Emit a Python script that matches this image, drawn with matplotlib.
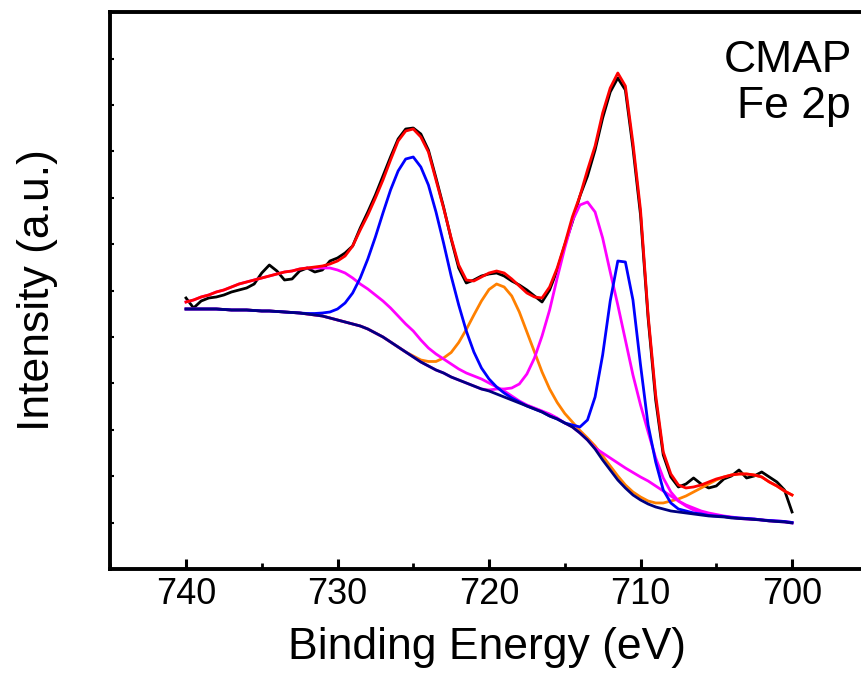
import numpy as np
import matplotlib
matplotlib.use("Agg")
import matplotlib.pyplot as plt
from matplotlib.ticker import MultipleLocator, FixedLocator

plt.rcParams['font.family'] = ['Liberation Sans', 'DejaVu Sans']

# binding energy grid (eV), 740 -> 700 in 0.5 eV steps
energy = np.linspace(740, 700, 81)

# raw spectrum (a.u.)
raw = [272, 262, 269, 272, 273, 275, 278, 280, 282, 286,
       297, 305, 299, 290, 291, 299, 302, 298, 300, 309,
       312, 317, 324, 342, 358, 375, 394, 413, 431, 441,
       442, 436, 420, 392, 363, 331, 302, 287, 290, 294,
       296, 297, 294, 289, 285, 280, 274, 268, 280, 300,
       325, 348, 374, 394, 420, 452, 478, 492, 480, 422,
       355, 252, 170, 115, 93, 83, 86, 92, 86, 82,
       84, 91, 94, 100, 92, 94, 98, 93, 88, 80, 58]

# fitted envelope
envelope = [268, 270, 273, 275, 278, 280, 283, 286, 288, 290,
            292, 294, 296, 298, 299, 301, 302, 303, 304, 306,
            309, 314, 324, 340, 355, 372, 390, 410, 429, 439,
            441, 433, 418, 390, 362, 332, 305, 290, 289, 293,
            297, 299, 297, 291, 284, 277, 273, 272, 283, 302,
            326, 353, 374, 400, 424, 457, 482, 497, 484, 427,
            360, 255, 175, 118, 96, 85, 82, 83, 85, 88,
            91, 93, 95, 96, 96, 95, 93, 88, 84, 79, 75]

# Shirley background
background = [261, 261, 261, 261, 261, 260.5, 260, 260, 260, 259.5,
              259, 259, 258.5, 258, 257.5, 257, 256, 255, 254, 252,
              250, 248, 246, 244, 241, 237, 233, 228, 223, 218,
              213, 208, 204, 200, 197, 193, 190, 187, 184, 181,
              179, 176, 173, 170, 167, 164, 161, 158, 154, 151,
              147, 143, 137, 130, 121, 110, 100, 90, 82, 75,
              70, 66, 63, 61, 59, 58, 57, 56, 55, 54,
              53.5, 53, 52, 51.5, 51, 50.5, 50, 49, 48.5, 48, 47]

# Fe 2p3/2 + 2p1/2 main peaks (blue)
comp_blue = [261, 261, 261, 261, 261, 260.5, 260, 260, 260, 259.5,
             259, 259, 258.5, 258, 257.5, 257, 256.5, 256.5, 257, 258,
             261, 267, 277, 292, 311, 333, 357, 380, 399, 411,
             413, 403, 385, 358, 327, 294, 265, 239, 218, 202,
             191, 183, 177, 172, 168, 164, 161, 158, 154, 151,
             147, 145, 143, 150, 173, 215, 269, 309, 308, 270,
             205, 145, 108, 80, 67, 61, 59, 57, 56, 54.5,
             54, 53.5, 52.5, 52, 51.5, 51, 50, 49.5, 49, 48.5, 47.5]

# satellites (orange)
comp_orange = [261, 261, 261, 261, 261, 260.5, 260, 260, 260, 259.5,
               259, 259, 258.5, 258, 257.5, 257, 256, 255, 254, 252,
               250, 248, 246, 244, 241, 237, 233, 228, 223, 218,
               214, 210, 208.5, 208.5, 212, 217.5, 227.5, 240.5, 255, 269,
               280.5, 286, 283, 274, 258, 238, 218, 198, 181, 167.5,
               156.5, 148, 139.5, 132, 124, 114, 104, 94, 85, 78,
               73, 69, 67, 67, 69, 71, 74, 78, 82, 86,
               90, 93, 95, 96, 96, 95, 93, 88, 84, 79, 75]

# broad high-energy component (magenta)
comp_magenta_a = [268, 270, 273, 275, 278, 280, 283, 286, 288, 290,
                  292, 294, 296, 298, 299, 301, 302, 302, 302, 302,
                  300, 297, 292, 286, 281, 275, 269, 262, 254, 246,
                  239, 230, 222, 216, 211, 206, 201, 197, 194, 191,
                  187, 183, 179, 174, 169, 165, 162, 159, 156, 152,
                  147, 143, 137, 130, 122, 117, 112, 107, 102, 97.5,
                  93, 89, 84, 79, 74, 69, 65, 62, 59, 57,
                  55.5, 54, 53, 52, 51.5, 51, 50, 49.5, 49, 48.5, 47.5]

# Fe3+ 2p3/2 component (magenta)
comp_magenta_b = [261, 261, 261, 261, 261, 260.5, 260, 260, 260, 259.5,
                  259, 259, 258.5, 258, 257.5, 257, 256, 255, 254, 252,
                  250, 248, 246, 244, 241, 237, 233, 228, 223, 218,
                  213, 208, 204, 200, 197, 193, 190, 187, 184, 181,
                  180, 181, 181, 182, 186, 196, 212, 234, 260, 292,
                  322, 349, 365, 368, 358, 332, 298, 265, 230, 195,
                  165, 138, 112, 92, 78, 69, 64, 60, 58, 56,
                  54.5, 53.5, 52.5, 51.5, 51, 50.5, 50, 49, 48.5, 48, 47]

x_ticks = [740, 730, 720, 710, 700]

fig = plt.figure(figsize=(8.62, 6.9), dpi=100)
ax = fig.add_axes([0.1279, 0.1754, 0.9667, 0.8072])

lw = 2.0
ax.plot(energy, raw, color='black', lw=lw, zorder=2)
ax.plot(energy, comp_orange, color='#FF8000', lw=lw, zorder=3)
ax.plot(energy, comp_magenta_a, color='#FF00FF', lw=lw, zorder=3)
ax.plot(energy, comp_magenta_b, color='#FF00FF', lw=lw, zorder=3)
ax.plot(energy, comp_blue, color='#0000FF', lw=lw, zorder=4)
ax.plot(energy, background, color='#000080', lw=lw, zorder=5)
ax.plot(energy, envelope, color='#FF0000', lw=lw, zorder=6)

ax.set_xlim(745, 690)
ax.set_ylim(1, 558)
ax.xaxis.set_major_locator(FixedLocator(x_ticks))
ax.xaxis.set_minor_locator(MultipleLocator(5))
ax.set_yticks(np.arange(1, 559, 46.4))
ax.tick_params(axis='x', which='major', direction='in', length=7.5, width=2.2,
               labelsize=26, pad=6)
ax.tick_params(axis='x', which='minor', direction='in', length=4.5, width=2.0)
ax.tick_params(axis='y', which='major', direction='in', length=3, width=1.5,
               labelleft=False)

for side in ['left', 'bottom', 'top', 'right']:
    ax.spines[side].set_linewidth(2.8)

ax.set_xlabel('Binding Energy (eV)', fontsize=32, labelpad=8)
ax.xaxis.set_label_coords((487 - 110.25) / 833.25, -0.105)
ax.set_ylabel('Intensity (a.u.)', fontsize=32)
ax.yaxis.set_label_coords(-0.063, 0.5)

fig.text(852 / 862, 1 - 72 / 690, 'CMAP', fontsize=32, ha='right', va='baseline')
fig.text(851 / 862, 1 - 118 / 690, 'Fe 2p', fontsize=32, ha='right', va='baseline')

fig.savefig('out.png', dpi=100)
